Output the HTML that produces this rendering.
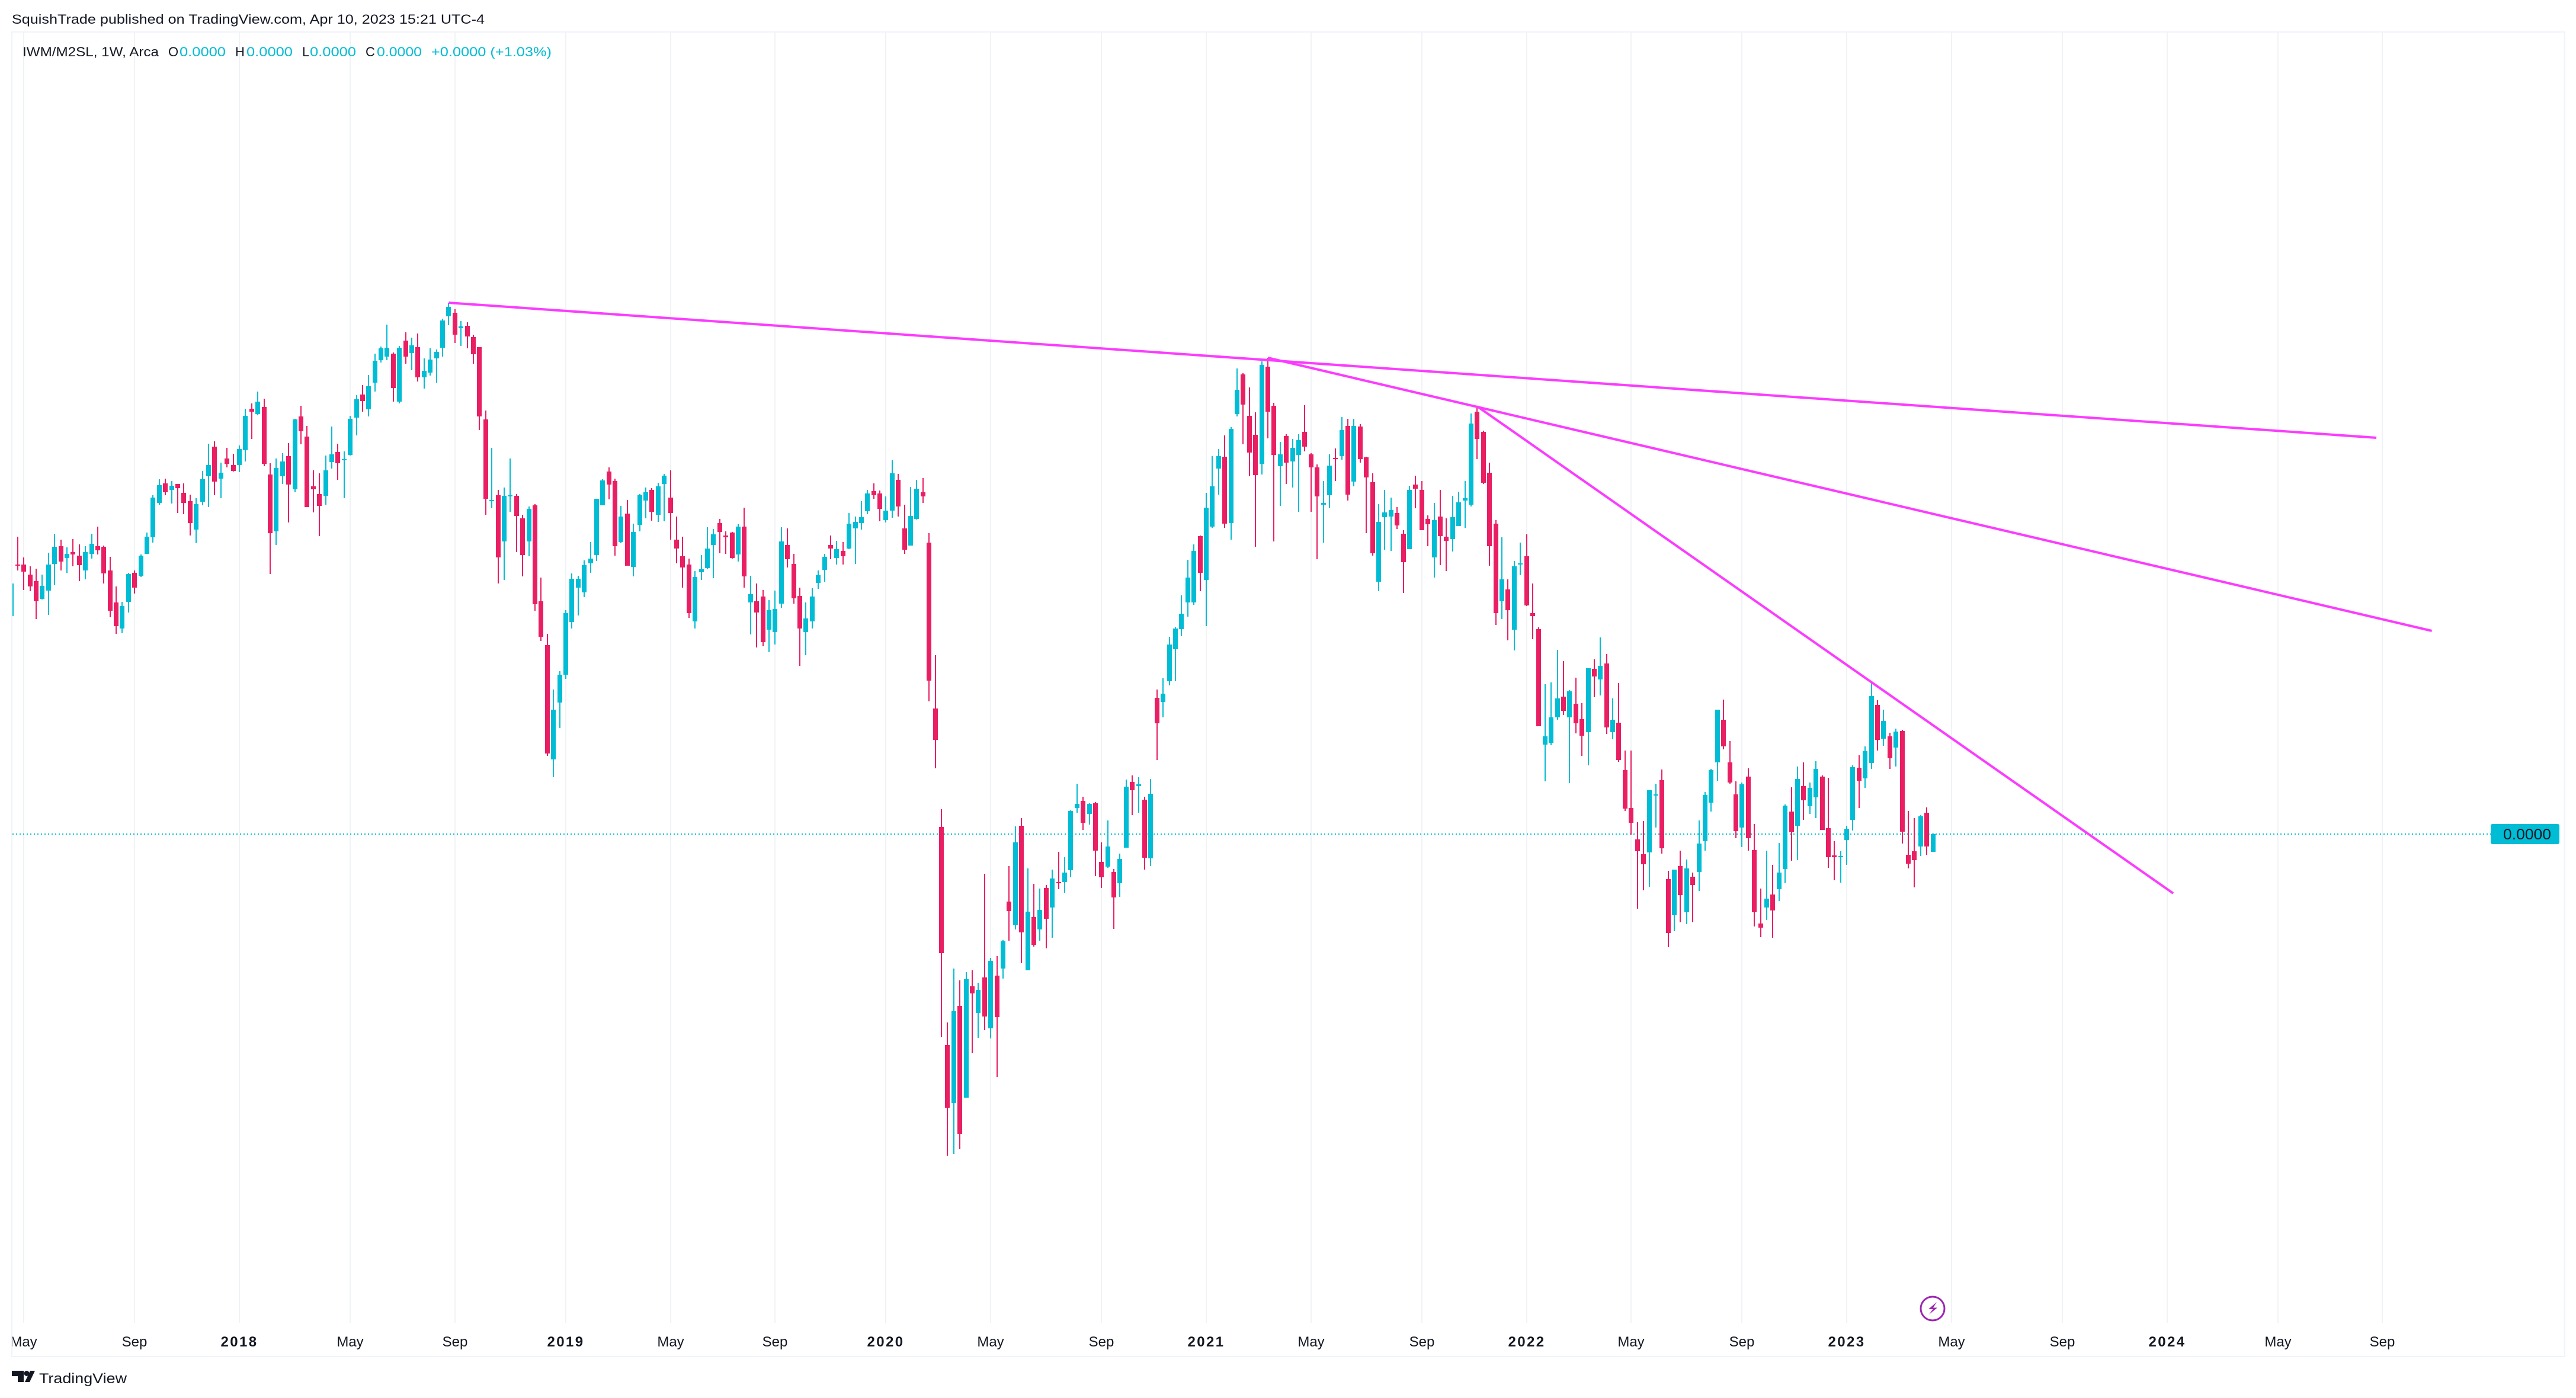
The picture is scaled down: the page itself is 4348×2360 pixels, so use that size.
<!DOCTYPE html>
<html lang="en">
<head>
<meta charset="utf-8">
<title>IWM/M2SL weekly chart</title>
<style>
html,body{margin:0;padding:0;background:#fff;width:4348px;height:2360px;overflow:hidden}
svg{display:block}
text{font-family:"Liberation Sans",sans-serif}
</style>
</head>
<body>
<svg id="chart" xmlns="http://www.w3.org/2000/svg" width="4348" height="2360" viewBox="0 0 4348 2360">
  <defs>
    <clipPath id="paneClip"><rect x="21" y="55" width="4307" height="2235"/></clipPath>
  </defs>
  <rect x="0" y="0" width="4348" height="2360" fill="#ffffff"/>
  <g id="gridLayer"></g>
  <line id="lastPriceLine" x1="21" x2="4204" stroke="#00bcd4" stroke-width="2" stroke-dasharray="2 4"/>
  <g id="candleLayer" clip-path="url(#paneClip)" shape-rendering="crispEdges"></g>
  <g id="trendLayer"></g>

  <rect x="19" y="53" width="4311" height="2" fill="#f0f3fa"/>
  <rect x="19" y="53" width="2" height="2238" fill="#f0f3fa"/>
  <rect x="4328" y="53" width="2" height="2238" fill="#f0f3fa"/>
  <rect x="19" y="2289" width="4311" height="2" fill="#f0f3fa"/>

  <g id="axisLayer" clip-path="url(#paneClip)"></g>

  <text x="20" y="40" font-size="22" fill="#131722" textLength="798" lengthAdjust="spacingAndGlyphs">SquishTrade published on TradingView.com, Apr 10, 2023 15:21 UTC-4</text>

  <g font-size="22">
    <text x="38" y="95" fill="#131722" textLength="230" lengthAdjust="spacingAndGlyphs">IWM/M2SL, 1W, Arca</text>
    <text x="284" y="95" fill="#131722">O</text>
    <text x="303" y="95" fill="#00bcd4" textLength="78" lengthAdjust="spacingAndGlyphs">0.0000</text>
    <text x="397" y="95" fill="#131722">H</text>
    <text x="416" y="95" fill="#00bcd4" textLength="78" lengthAdjust="spacingAndGlyphs">0.0000</text>
    <text x="510" y="95" fill="#131722">L</text>
    <text x="523" y="95" fill="#00bcd4" textLength="78" lengthAdjust="spacingAndGlyphs">0.0000</text>
    <text x="617" y="95" fill="#131722">C</text>
    <text x="636" y="95" fill="#00bcd4" textLength="76" lengthAdjust="spacingAndGlyphs">0.0000</text>
    <text x="728" y="95" fill="#00bcd4" textLength="203" lengthAdjust="spacingAndGlyphs">+0.0000 (+1.03%)</text>
  </g>

  <g>
    <rect id="lastPriceBadge" x="4204" width="116" height="34" rx="3" fill="#00bcd4"/>
    <text id="lastPriceText" x="4225" font-size="25" fill="#131722" textLength="81" lengthAdjust="spacingAndGlyphs">0.0000</text>
  </g>

  <g>
    <ellipse cx="3262" cy="2209" rx="20" ry="20" fill="#ffffff" stroke="#9c27b0" stroke-width="3"/>
    <polygon points="3269,2198 3255,2210 3262.5,2210 3256,2219 3270,2207.5 3263,2207.5" fill="#9c27b0"/>
  </g>

  <g>
    <path d="M20 2314h20v19h-10v-10h-10z" fill="#131722"/>
    <circle cx="45" cy="2318.5" r="4.5" fill="#131722"/>
    <polygon points="51,2314 59,2314 50,2333 42,2333" fill="#131722"/>
    <text x="66" y="2335" font-size="24" fill="#131722" textLength="148" lengthAdjust="spacingAndGlyphs">TradingView</text>
  </g>
</svg>

<script>
// Weekly candles, values in arbitrary price units.
// The first entry is the week 37 bars before the first bar of 2018.
var firstBarIndex = -37;

var opens = [
960,1047,1047,1030,1019,989,1003,1048,1078,1058,
1068,1062,1037,1065,1078,1077,1037,983,939,984,
1033,1028,1065,1093,1151,1184,1173,1183,1168,1154,
1106,1153,1196,1246,1192,1226,1215,
1215,1240,1310,1301,1313,1199,1103,1196,1230,1174,
1297,1263,1179,1166,1163,1220,1237,1223,1232,1295,
1334,1309,1354,1392,1398,1403,1322,1425,1404,1414,
1363,1371,1395,1413,1466,1472,1446,1450,1431,1414,
1292,1154,1164,1086,1162,1163,1125,1086,1147,985,
911,718,814,861,950,1008,1000,1049,1063,1147,
1204,1188,1085,1133,1043,1114,1155,1173,1131,1183,
1160,1089,1061,1047,951,1034,1041,1080,1117,1096,
1101,1064,1111,983,985,993,937,933,981,1080,
1048,994,933,951,1016,1038,1080,1058,1070,1074,
1108,1117,1137,1171,1167,1122,1138,1190,1108,1079,
1124,1169,1084,804,604,236,138,302,147,335,
290,350,264,353,365,478,438,606,362,452,
431,501,468,511,511,531,636,648,626,644,
545,537,528,509,569,680,673,650,551,822,
815,850,904,938,983,983,1095,1021,1111,1209,
1229,1117,1301,1368,1298,1266,1217,1381,1315,1213,
1264,1221,1232,1271,1233,1211,1148,1164,1227,1230,
1281,1187,1280,1228,1186,1018,1127,1128,1134,1099,
1073,1182,1173,1124,1059,1128,1094,1090,1112,1155,
1148,1305,1271,1202,1116,985,1005,937,1047,1061,
965,938,743,746,789,824,789,812,786,764,
871,853,880,764,780,700,636,583,558,561,
657,683,516,455,538,460,520,528,580,645,
713,785,713,659,603,689,565,441,468,490,
499,533,630,606,673,639,654,689,602,556,
553,582,616,704,686,712,810,753,757,738,
766,557,563,571,628,562
];

var highs = [
1015,1094,1059,1044,1040,1030,1067,1099,1089,1076,
1090,1081,1078,1099,1111,1079,1060,1010,984,1033,
1037,1064,1101,1164,1191,1192,1188,1183,1184,1165,
1159,1205,1251,1255,1219,1244,1234,
1248,1310,1319,1339,1327,1218,1226,1235,1252,1293,
1315,1281,1206,1201,1231,1280,1251,1238,1298,1333,
1350,1367,1403,1415,1452,1405,1416,1439,1430,1437,
1395,1412,1410,1462,1489,1478,1458,1456,1435,1414,
1307,1244,1173,1177,1226,1166,1131,1145,1149,1025,
930,836,867,970,1032,1028,1054,1085,1158,1191,
1211,1192,1146,1156,1116,1166,1177,1176,1185,1200,
1206,1128,1094,1057,1036,1063,1110,1107,1124,1103,
1102,1115,1143,1028,1015,1004,987,1003,1110,1108,
1065,1008,983,1007,1037,1065,1096,1087,1085,1134,
1128,1154,1173,1184,1172,1162,1223,1200,1148,1178,
1190,1193,1100,894,634,274,365,345,359,362,
341,525,383,386,413,538,605,619,534,508,
500,506,532,562,553,632,677,655,644,646,
578,615,533,559,684,691,688,655,685,836,
855,925,941,995,1055,1081,1096,1168,1230,1242,
1265,1279,1378,1370,1346,1304,1390,1396,1320,1254,
1267,1259,1267,1316,1235,1216,1188,1233,1243,1296,
1293,1293,1284,1229,1201,1149,1173,1160,1144,1105,
1180,1197,1188,1130,1151,1173,1125,1163,1170,1188,
1302,1314,1273,1219,1122,1093,1022,1053,1084,1098,
1015,941,845,848,903,884,835,856,813,872,
887,924,896,821,847,733,733,612,614,666,
677,701,530,532,564,549,527,615,663,702,
802,819,749,681,679,703,609,500,564,540,
577,642,671,706,713,679,715,691,687,580,
563,606,708,725,740,849,818,802,763,770,
768,631,619,624,637,593
];

var lows = [
960,1037,1004,1002,955,988,962,1012,1037,1033,
1044,1019,1022,1057,1064,1015,958,930,931,966,
998,1026,1065,1084,1148,1164,1150,1134,1132,1096,
1083,1147,1144,1164,1159,1211,1204,
1203,1221,1259,1299,1213,1031,1080,1183,1118,1169,
1250,1144,1135,1095,1148,1209,1190,1159,1231,1265,
1305,1297,1339,1388,1392,1322,1319,1386,1375,1356,
1344,1366,1354,1398,1451,1421,1416,1412,1386,1274,
1131,1142,1015,1021,1136,1068,1027,1061,969,918,
724,688,771,854,939,961,992,1033,1053,1147,
1157,1062,1083,1045,1027,1103,1125,1121,1119,1120,
1089,1049,1008,957,939,1021,1039,1024,1066,1065,
1057,1052,1008,929,907,909,899,912,974,1042,
981,876,894,939,1006,1018,1056,1047,1047,1073,
1048,1106,1132,1158,1120,1118,1126,1128,1065,1079,
1123,1151,816,703,249,49,52,60,147,222,
248,261,247,182,348,412,431,374,362,402,
412,399,417,499,493,519,628,599,608,521,
501,535,432,486,569,624,628,532,538,717,
789,843,850,926,959,979,1002,943,1109,1165,
1109,1089,1297,1250,1196,1077,1199,1260,1086,1146,
1183,1177,1136,1238,1136,1056,1084,1142,1188,1224,
1155,1179,1219,1100,1062,1002,1072,1070,1107,999,
1073,1142,1105,1078,1025,1046,1036,1069,1112,1109,
1145,1225,1183,1045,945,955,919,902,1029,977,
921,774,681,742,785,793,678,762,724,708,
823,826,761,752,714,631,591,466,497,503,
603,559,401,428,443,440,443,496,564,630,
682,735,677,585,570,564,436,418,447,417,
479,509,547,548,616,626,619,599,535,514,
510,540,598,636,670,702,733,741,702,706,
576,534,502,555,557,562
];

var closes = [
1015,1046,1035,1010,985,1011,1047,1077,1052,1065,
1064,1046,1068,1082,1071,1032,969,943,977,1031,
1008,1062,1094,1160,1181,1169,1180,1176,1151,1117,
1149,1191,1215,1187,1202,1217,1205,
1242,1298,1305,1322,1217,1100,1210,1221,1182,1292,
1272,1144,1174,1146,1206,1233,1218,1225,1293,1326,
1323,1348,1391,1412,1413,1345,1413,1398,1417,1363,
1374,1393,1406,1459,1482,1435,1449,1432,1402,1297,
1158,1156,1059,1163,1164,1129,1063,1141,980,925,
728,802,861,965,1023,1023,1046,1057,1158,1189,
1182,1078,1128,1045,1102,1164,1169,1136,1179,1197,
1134,1074,1042,965,1026,1039,1074,1098,1102,1093,
1058,1111,1027,997,966,916,970,972,1086,1056,
990,939,956,993,1029,1060,1074,1073,1061,1116,
1119,1127,1167,1164,1141,1138,1201,1145,1072,1129,
1175,1162,851,751,391,130,293,86,347,323,
329,284,378,283,411,462,578,426,461,405,
464,449,517,509,527,631,643,611,643,564,
519,571,485,550,672,666,676,552,660,779,
829,912,939,964,1025,1070,1033,1143,1179,1230,
1116,1276,1342,1317,1236,1198,1384,1305,1232,1233,
1219,1244,1257,1246,1211,1162,1151,1214,1225,1274,
1165,1281,1225,1194,1066,1119,1135,1139,1113,1051,
1173,1175,1105,1115,1122,1095,1087,1127,1152,1159,
1285,1259,1185,1078,965,1022,970,1044,1049,978,
960,774,757,789,821,800,833,779,758,872,
858,876,772,785,717,635,611,563,541,666,
659,568,425,532,489,534,506,576,658,700,
802,740,679,597,676,585,460,434,483,463,
527,640,595,685,649,670,702,599,553,553,
555,601,705,682,732,825,751,783,720,765,
596,542,548,622,571,592
];

// Time axis ticks, as bar indices relative to the first bar of 2018.
var tickBars = [-35,-17,0,18,35,53,70,87,105,122,140,157,174,192,209,226,244,261,278,296,313,331,348];
var tickLabels = ["May","Sep","2018","May","Sep","2019","May","Sep","2020","May","Sep","2021","May","Sep","2022","May","Sep","2023","May","Sep","2024","May","Sep"];

// Trend lines: anchor bars and prices.
var trendStartBars = [34,167,201];
var trendStartValues = [1489,1396,1314];
var trendEndBars = [347,356,314];
var trendEndValues = [1261,935,492];

var SVG_NS = "http://www.w3.org/2000/svg";
var UP_COLOR = "#00bcd4";
var DOWN_COLOR = "#e91e63";
var TREND_COLOR = "#fb3cff";
var GRID_COLOR = "#f0f3f5";

function xScale(bar) { return 404 + 10.395 * bar; }
function yScale(value) { return 2000 - value; }

function make(tag, attrs) {
  var el = document.createElementNS(SVG_NS, tag);
  for (var k in attrs) { el.setAttribute(k, attrs[k]); }
  return el;
}

var gridLayer = document.getElementById("gridLayer");
var axisLayer = document.getElementById("axisLayer");
tickBars.forEach(function (bar, t) {
  var x = Math.round(xScale(bar));
  var grid = make("rect", { x: x - 1, y: 55, width: 2, height: 2178, fill: GRID_COLOR });
  
  
  gridLayer.appendChild(grid);

  var isYear = /^\d{4}$/.test(tickLabels[t]);
  var label = make("text", {
    x: x, y: 2273, "font-size": 24, "text-anchor": "middle", fill: "#131722",
    "font-weight": isYear ? "700" : "400",
    "letter-spacing": isYear ? "2.4" : "0"
  });
  label.textContent = tickLabels[t];
  
  
  axisLayer.appendChild(label);
});

var candleLayer = document.getElementById("candleLayer");
closes.forEach(function (close, k) {
  var open = opens[k];
  var bar = firstBarIndex + k;
  var x = Math.round(xScale(bar));
  var color = close >= open ? UP_COLOR : DOWN_COLOR;
  var group = make("g", { fill: color });
  
  

  var wickTop = yScale(highs[k]);
  var wick = make("rect", { x: x - 1, y: wickTop, width: 2, height: yScale(lows[k]) - wickTop });
  
  
  group.appendChild(wick);

  var bodyTop = yScale(Math.max(open, close));
  var bodyBottom = yScale(Math.min(open, close));
  var body = make("rect", { x: x - 4, y: bodyTop, width: 8, height: Math.max(2, bodyBottom - bodyTop) });
  
  
  group.appendChild(body);

  candleLayer.appendChild(group);
});

var trendLayer = document.getElementById("trendLayer");
trendStartBars.forEach(function (startBar, t) {
  var line = make("line", {
    x1: xScale(startBar), y1: yScale(trendStartValues[t]),
    x2: xScale(trendEndBars[t]), y2: yScale(trendEndValues[t]),
    stroke: TREND_COLOR, "stroke-width": 4
  });
  
  
  trendLayer.appendChild(line);
});

var lastY = yScale(closes[closes.length - 1]);
var lastLine = document.getElementById("lastPriceLine");
lastLine.setAttribute("y1", lastY);
lastLine.setAttribute("y2", lastY);
document.getElementById("lastPriceBadge").setAttribute("y", lastY - 17);
document.getElementById("lastPriceText").setAttribute("y", lastY + 9);
</script>
</body>
</html>
